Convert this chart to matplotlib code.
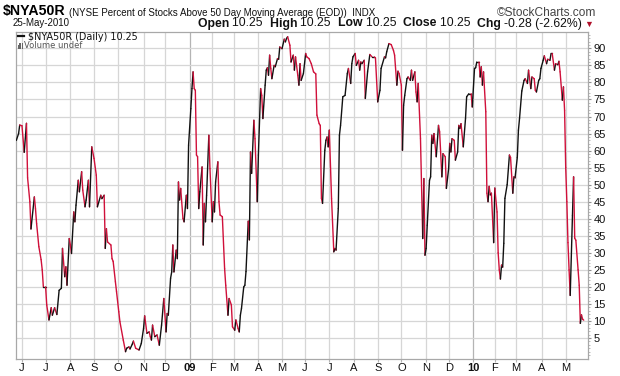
import numpy as np
import pandas as pd
import matplotlib
matplotlib.use("Agg")
import matplotlib.pyplot as plt
from matplotlib.collections import LineCollection
from matplotlib.patches import Rectangle

# ---------------- data ----------------
START_DATE = "2008-05-23"
END_DATE = "2010-05-25"
nyse_holidays = ["2008-05-26", "2008-07-04", "2008-09-01", "2008-11-27", "2008-12-25",
                 "2009-01-01", "2009-01-19", "2009-02-16", "2009-04-10", "2009-05-25",
                 "2009-07-03", "2009-09-07", "2009-11-26", "2009-12-25",
                 "2010-01-01", "2010-01-18", "2010-02-15", "2010-04-02"]

# trading-session number (0 = 23-May-2008) of each turning point of the line
session_no = [0, 2, 3, 5, 7, 9, 10, 12, 13, 16, 17, 18, 20, 22, 23, 24, 26, 27, 29, 31,
              32, 34, 36, 38, 40, 41, 43, 44, 45, 47, 48, 49, 51, 52, 53, 55, 56, 58, 59, 61,
              62, 64, 65, 67, 69, 71, 72, 75, 76, 78, 79, 80, 81, 84, 85, 86, 88, 89, 91, 92,
              95, 97, 98, 100, 101, 103, 104, 106, 109, 111, 113, 114, 116, 118, 119, 120, 121, 123, 125, 127,
              129, 131, 133, 134, 135, 137, 138, 139, 140, 142, 143, 144, 145, 146, 148, 149, 151, 152, 153, 155,
              156, 157, 158, 159, 160, 161, 162, 163, 165, 166, 167, 168, 169, 171, 172, 174, 175, 176, 177, 179,
              180, 181, 183, 185, 186, 188, 189, 191, 192, 194, 195, 197, 198, 199, 200, 202, 203, 204, 206, 207,
              208, 209, 211, 212, 214, 215, 217, 218, 219, 221, 222, 223, 224, 225, 226, 227, 229, 230, 232, 233,
              234, 236, 238, 239, 240, 241, 243, 244, 246, 247, 248, 250, 251, 252, 253, 255, 257, 258, 260, 262,
              264, 266, 267, 269, 270, 271, 272, 274, 275, 276, 277, 278, 280, 282, 283, 284, 286, 287, 288, 290,
              292, 294, 295, 297, 298, 299, 301, 302, 304, 305, 306, 307, 309, 310, 312, 314, 316, 318, 319, 321,
              323, 324, 327, 328, 329, 331, 333, 335, 336, 338, 339, 340, 342, 343, 344, 345, 347, 348, 350, 351,
              352, 354, 355, 356, 357, 359, 361, 362, 363, 364, 365, 367, 368, 369, 370, 371, 373, 375, 376, 378,
              379, 381, 382, 384, 385, 386, 387, 389, 390, 392, 393, 394, 395, 397, 399, 400, 402, 404, 405, 407,
              408, 409, 411, 412, 413, 414, 415, 417, 418, 419, 420, 421, 422, 424, 425, 427, 428, 429, 430, 431,
              432, 433, 434, 436, 438, 439, 441, 442, 443, 445, 446, 447, 449, 451, 452, 454, 455, 457, 458, 460,
              461, 462, 464, 465, 466, 468, 469, 471, 472, 474, 475, 476, 478, 479, 481, 482, 483, 485, 486, 487,
              488, 489, 490, 491, 492, 494, 495, 496, 497, 499, 500, 501, 502, 503, 504]

pct_above_50dma = [63, 65, 67.5, 67.3, 59.5, 68, 52, 45, 37, 46.4, 43, 38.6, 31.8, 28, 25, 20, 20, 14.7, 10.3, 13.9,
                   11.7, 13.9, 11.9, 19, 19.6, 31.3, 23, 25.9, 20.5, 34.2, 32.3, 29.8, 42, 39.1, 44, 51.3, 47.9, 53.8, 48.4, 43.5,
                   45.5, 51.3, 43.5, 61.1, 57.7, 52.8, 43.5, 46.9, 45.9, 46.9, 31.3, 37.1, 33.2, 32.3, 28.3, 27.5, 21.5, 18.6, 12.7, 9.8,
                   4.4, 1, 2, 2.4, 1.8, 3.2, 4.1, 2, 1.5, 3.4, 7.8, 11.5, 6.4, 6.8, 5.4, 4.4, 8.8, 5.4, 5.9, 2.9,
                   8.8, 16.6, 6.8, 12.2, 11.7, 22.5, 24.4, 32.3, 24.4, 30.8, 28.3, 50.8, 45.5, 48.9, 40.1, 39.1, 46.9, 43, 61.6, 72.3,
                   78.2, 83.1, 78.2, 77.7, 58.7, 58.2, 43, 47.9, 55.2, 32.3, 44.5, 39.1, 46.9, 64.5, 54.7, 39.1, 45, 42, 50.8, 56.7,
                   45, 41.1, 40.6, 25.4, 20.5, 11.7, 16.6, 14.7, 8.3, 7.3, 10.3, 7.8, 6.8, 11.7, 13.7, 20, 20.5, 24.5, 39.3, 33.8,
                   59.6, 53.3, 68.9, 63.5, 45, 58.7, 78.2, 76.2, 69.4, 79.2, 83.6, 84.3, 82.1, 88, 84.1, 81.1, 85, 84.6, 87, 86.8,
                   90.4, 89.9, 92.7, 91.9, 92.9, 93.4, 90.9, 86, 88, 83.6, 87.5, 82.1, 79.2, 85.5, 80.6, 82.6, 88.5, 87.5, 87, 85.5,
                   83.1, 82.5, 70.4, 67.9, 67.4, 46, 44.5, 60.1, 63, 64, 61.1, 66, 45.9, 30.3, 31.3, 30.8, 43, 64.5, 67.4, 75.8,
                   76.2, 82.6, 84.1, 79.7, 85.5, 87.5, 88.5, 85, 86.5, 83.6, 86, 85.5, 86.5, 75.3, 83.1, 88.2, 87.5, 87.5, 87.2, 74.3,
                   77.7, 84.1, 87.5, 87.2, 89, 91.4, 91.1, 89.4, 88, 79.2, 83.3, 82.6, 79.2, 60.1, 73.3, 76.2, 81.1, 81.6, 80.6, 83.6,
                   80.6, 83.1, 77.2, 74.3, 79.7, 63.5, 34.2, 51.8, 29.3, 31.3, 38.1, 51.3, 52.3, 64.5, 62.1, 65, 58.2, 67.4, 65.5, 52.3,
                   59.1, 58.2, 48.9, 54.7, 62.1, 59.6, 63.5, 63, 57.2, 59.6, 67.4, 66.5, 67.9, 61.1, 69.4, 75.8, 76.7, 76.7, 72.8, 84.1,
                   84.3, 86, 86, 81.6, 84.6, 79.2, 83.1, 71.4, 47.5, 45, 49.5, 47, 47.5, 33, 49, 42, 30, 25, 22.3, 26.4,
                   25.8, 32.8, 46, 50, 58.7, 58, 47.5, 52.3, 52, 58, 66, 69.5, 77.5, 80.6, 81.1, 79.7, 83.6, 78.2, 81.6, 81.1,
                   77.7, 77.2, 80.6, 81.1, 84.1, 86.5, 87.8, 85.5, 86.8, 86.5, 88.5, 88.5, 83.6, 85.5, 85.2, 86.2, 83.1, 74.8, 78.7, 71.8,
                   55, 45, 33, 25, 17.5, 41, 52.3, 34.3, 33.7, 25, 20.5, 9.3, 11.8, 10.53, 10.25]

y_tick_values = list(range(5, 95, 5))
month_letters = ["J", "F", "M", "A", "M", "J", "J", "A", "S", "O", "N", "D"]
symbol = "$NYA50R"
description = "(NYSE Percent of Stocks Above 50 Day Moving Average (EOD))"
exchange = "INDX"
last_date = "25-May-2010"
quote_open, quote_high, quote_low, quote_close = "10.25", "10.25", "10.25", "10.25"
quote_chg = "-0.28 (-2.62%)"

# ---------------- figure ----------------
W, H = 620, 376
fig = plt.figure(figsize=(W / 100, H / 100), dpi=100)
FONT = ["Liberation Sans", "DejaVu Sans"]
plt.rcParams["font.family"] = FONT

def fx(x):
    return x / W

def fy(y):
    return 1 - y / H

L, R, T, B = 16, 588, 32, 359
ax = fig.add_axes([fx(L), fy(B), (R - L) / W, (B - T) / H])

sessions = pd.bdate_range(START_DATE, END_DATE, freq="C", holidays=nyse_holidays)
idx = pd.Series(np.arange(len(sessions)), index=sessions)
firsts = idx.groupby([sessions.year, sessions.month]).first()

x = np.asarray(session_no, dtype=float)
y = np.asarray(pct_above_50dma, dtype=float)
pts = np.column_stack([x, y])
segs = np.stack([pts[:-1], pts[1:]], axis=1)
up = np.diff(y) >= 0
colors = np.where(up, "#111111", "#d0103a")
lc = LineCollection(segs, colors=colors, linewidths=1.0, capstyle="round", joinstyle="round", zorder=3)
ax.add_collection(lc)

ax.set_xlim(-0.3, len(sessions) + 2.8)
ax.set_ylim(-1.15, 94.8)

# month grid
tick_pos, tick_lab, tick_bold = [], [], []
for (yr, mo), i in firsts.items():
    if i == 0:
        continue
    tick_pos.append(i)
    if mo == 1:
        tick_lab.append(f"{yr % 100:02d}")
        tick_bold.append(True)
    else:
        tick_lab.append(month_letters[mo - 1])
        tick_bold.append(False)
for p, b in zip(tick_pos, tick_bold):
    ax.axvline(p, color="#b4b4b4" if b else "#d6d6d6", lw=0.9, zorder=1)
for v in y_tick_values:
    ax.axhline(v, color="#d6d6d6", lw=0.9, zorder=1)

ax.set_xticks(tick_pos)
ax.set_xticklabels(tick_lab)
ax.tick_params(axis="x", length=2, width=0.8, color="#b4b4b4", pad=1.2, labelsize=8, labelcolor="#111111")
for t, b in zip(ax.get_xticklabels(), tick_bold):
    t.set_fontweight("bold" if b else "normal")
    t.set_fontsize(8)

ax.yaxis.tick_right()
ax.set_yticks(y_tick_values)
ax.set_yticklabels([str(v) for v in y_tick_values])
ax.tick_params(axis="y", length=2, width=0.8, color="#909090", pad=2, labelsize=8, labelcolor="#111111")
ax.set_yticks(np.arange(0, 95, 1), minor=True)
ax.tick_params(axis="y", which="minor", length=1.2, width=0.6, color="#b0b0b0")

for s in ax.spines.values():
    s.set_color("#a8a8a8")
    s.set_linewidth(0.9)

# ---------------- header texts ----------------
fig.canvas.draw()
rend = fig.canvas.get_renderer()
t1 = fig.text(fx(3), fy(15.5), symbol, fontsize=10.2, fontweight="bold", va="baseline",
              ha="left", color="#000000", parse_math=False)
bb = t1.get_window_extent(rend)
fig.text(fx(bb.x1 + 3), fy(15.5), description + "  " + exchange, fontsize=7.0, va="baseline",
         ha="left", color="#111111", parse_math=False)
fig.text(fx(596), fy(15.5), "\u00a9StockCharts.com", fontsize=8.6, va="baseline", ha="right",
         color="#444444")
fig.text(fx(13), fy(26.5), last_date, fontsize=7.0, va="baseline", ha="left", color="#111111")

# quote line, right aligned at x=582 followed by a red triangle
pieces = [("Open ", True), (quote_open + "  ", False), ("High ", True), (quote_high + "  ", False),
          ("Low ", True), (quote_low + "  ", False), ("Close ", True), (quote_close + "  ", False),
          ("Chg ", True), (quote_chg, False)]
objs = []
for txt, bold in pieces:
    o = fig.text(0, fy(26.5), txt, fontsize=8.8, fontweight="bold" if bold else "normal",
                 va="baseline", ha="left", color="#111111")
    objs.append(o)
widths = [o.get_window_extent(rend).width for o in objs]
xstart = 582 - sum(widths)
for o, w in zip(objs, widths):
    o.set_x(fx(xstart))
    xstart += w
fig.text(fx(584), fy(26.5), "\u25bc", fontsize=6.5, va="baseline", ha="left", color="#b0102a")

# in-plot legend
fig.add_artist(plt.Line2D([fx(18), fx(24)], [fy(36), fy(36)], color="#111111", lw=1.6))
fig.text(fx(28), fy(39.5), symbol + " (Daily) " + quote_close, fontsize=6.9, va="baseline",
         ha="left", color="#111111", family=["DejaVu Sans"], parse_math=False)
for k, hh in enumerate([4, 6, 5]):
    fig.add_artist(Rectangle((fx(17.5 + k * 2), fy(48.5)), 1.3 / W, hh / H, facecolor="#666666",
                             edgecolor="none", transform=fig.transFigure))
fig.text(fx(24), fy(48.5), "Volume undef", fontsize=6.0, va="baseline", ha="left",
         color="#555555", family=["DejaVu Sans"])

fig.savefig("out.png", dpi=100)
